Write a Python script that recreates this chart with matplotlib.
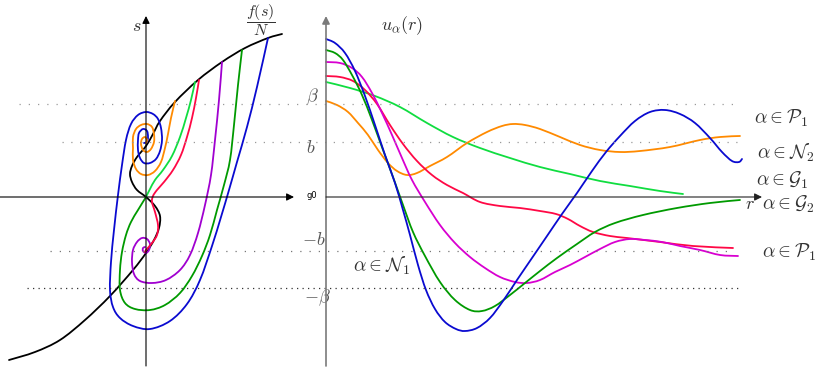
import numpy as np
import matplotlib.pyplot as plt
from matplotlib.path import Path
from matplotlib.patches import PathPatch

plt.rcParams['mathtext.fontset'] = 'cm'

# canvas size (pixels at dpi 100)
plot_dpi = 100
width_px = 830
height_px = 369

# left panel: phase plane (g, s)
nullcline = [(9, 360), (35, 352), (60, 340), (85, 320), (110, 296), (133, 270), (146, 253),
             (154, 240), (159, 228), (160, 216), (155, 206), (146, 197), (137, 190),
             (132, 182), (130, 174), (132, 166), (137, 157), (146, 146), (153, 134),
             (160, 121), (175, 102), (198, 80), (222, 62), (245, 48), (268, 38), (282, 34)]
phase_blue = [(268, 38), (257, 87), (247, 127), (237, 162), (229, 190), (221, 217), (212, 246),
              (200, 280), (187, 304), (170, 321), (150, 329), (133, 326), (120, 318),
              (113, 307), (110, 290), (111, 262), (114, 230), (118, 195), (122, 165),
              (126, 140), (131, 124), (138, 115), (146, 112), (153, 114), (158, 119),
              (161, 128), (162, 140), (160, 151), (156, 159), (150, 163), (144, 163),
              (140, 158), (138, 150), (138, 140), (139, 133), (143, 129), (147, 131),
              (148, 137), (147, 142), (144, 143)]
phase_orange = [(175, 101), (171, 118), (168, 134), (165, 148), (161, 162), (155, 171),
                (148, 175), (141, 174), (136, 169), (133, 160), (133, 148), (133, 137),
                (136, 129), (141, 125), (147, 124), (152, 127), (154, 134), (154, 142),
                (151, 149), (147, 152), (143, 150), (141, 144), (142, 139), (145, 137),
                (147, 140), (146, 143)]
phase_lightgreen = [(195, 82), (191, 100), (186, 118), (180, 137), (172, 156), (163, 170),
                    (155, 180), (150, 189), (146, 197)]
phase_red = [(199, 80), (196, 98), (192, 118), (187, 137), (181, 155), (173, 170),
             (164, 182), (157, 190), (153, 196), (152, 202), (155, 212), (158, 225),
             (157, 235), (152, 243), (146, 250), (145, 252)]
phase_green = [(242, 50), (238, 85), (234, 125), (230, 160), (224, 185), (217, 210),
               (210, 235), (202, 256), (192, 276), (180, 293), (165, 305), (150, 310),
               (135, 309), (125, 303), (120, 290), (120, 270), (122, 252), (126, 235),
               (131, 222), (138, 210), (146, 197)]
phase_purple = [(222, 62), (219, 100), (215, 140), (211, 175), (205, 205), (198, 233),
                (190, 255), (180, 270), (166, 280), (152, 283), (140, 281), (134, 274),
                (132, 262), (133, 250), (137, 242), (142, 238), (147, 239), (150, 244),
                (149, 250), (146, 253), (143, 251), (143, 248), (145, 247)]

# right panel: profiles u_alpha(r)
u_blue = [(326, 39), (335, 43), (345, 53), (355, 71), (365, 96), (375, 125), (385, 155),
          (395, 183), (403, 210), (410, 235), (418, 265), (426, 290), (435, 309), (445, 322),
          (456, 329), (465, 331), (477, 328), (490, 318), (503, 301), (517, 280), (532, 258),
          (547, 236), (562, 214), (577, 193), (592, 171), (606, 152), (620, 136), (635, 121),
          (650, 112), (665, 110), (680, 114), (695, 123), (710, 138), (722, 152), (732, 161),
          (739, 162), (742, 159)]
u_green = [(326, 50), (335, 53), (343, 60), (352, 75), (362, 95), (372, 120), (383, 150),
           (393, 177), (403, 205), (413, 232), (425, 256), (440, 282), (455, 300), (470, 310),
           (482, 311), (495, 306), (510, 295), (525, 283), (540, 271), (557, 258), (577, 244),
           (595, 232), (615, 223), (643, 215), (677, 208), (710, 203), (740, 200)]
u_magenta = [(326, 62), (340, 63), (352, 68), (362, 77), (372, 93), (382, 113), (392, 135),
             (402, 158), (412, 180), (425, 202), (440, 225), (455, 243), (470, 257), (485, 268),
             (500, 277), (515, 282), (527, 283), (540, 280), (555, 272), (570, 265), (585, 257),
             (600, 249), (615, 242), (630, 239), (645, 240), (662, 242), (680, 246), (700, 250),
             (720, 255), (738, 256)]
u_red = [(326, 76), (340, 77), (353, 81), (365, 90), (377, 104), (390, 125), (403, 144),
         (417, 161), (432, 175), (447, 185), (463, 193), (480, 202), (500, 206), (520, 208),
         (540, 211), (556, 214), (568, 219), (580, 226), (593, 232), (610, 236), (627, 238),
         (660, 242), (693, 246), (733, 248)]
u_lightgreen = [(326, 82), (350, 88), (375, 96), (400, 107), (427, 123), (453, 137),
                (480, 148), (510, 158), (540, 167), (570, 174), (600, 181), (630, 186),
                (660, 191), (683, 194)]
u_orange = [(326, 101), (337, 105), (348, 112), (358, 123), (368, 135), (378, 150),
            (388, 163), (397, 171), (407, 175), (417, 173), (430, 166), (447, 157),
            (467, 143), (487, 132), (502, 126), (513, 124), (525, 125), (540, 129),
            (560, 137), (580, 145), (600, 150), (620, 152), (640, 151), (670, 147),
            (700, 140), (720, 137), (740, 136)]

# threshold levels (y) and their dotted extent
level_names = [r'$\beta$', r'$b$', r'$-b$', r'$-\beta$']
level_y = [104, 142, 251, 288]
level_x0 = [19, 62, 50, 27]
level_x1 = [738, 738, 733, 740]
level_label_pos = [(312, 97), (311, 148), (314, 240), (317, 298)]

# class labels on the right
class_labels = [r'$\alpha\in\mathcal{P}_1$', r'$\alpha\in\mathcal{N}_2$',
                r'$\alpha\in\mathcal{G}_1$', r'$\alpha\in\mathcal{G}_2$',
                r'$\alpha\in\mathcal{P}_1$', r'$\alpha\in\mathcal{N}_1$']
class_label_pos = [(781, 118), (786, 153), (782, 180), (788, 204), (789, 252), (381, 266)]

BLUE = '#0a0ad0'
GREEN = '#009a00'
LGREEN = '#10dd40'
ORANGE = '#ff8a00'
RED = '#ff0845'
PURPLE = '#a000d0'
MAGENTA = '#d800d0'


def smooth_path(points):
    # Catmull-Rom through the read points, drawn as cubic Bezier segments
    pts = np.asarray(points, dtype=float)
    n = len(pts)
    verts = [pts[0]]
    codes = [Path.MOVETO]
    for i in range(n - 1):
        p0 = pts[max(i - 1, 0)]
        p1 = pts[i]
        p2 = pts[i + 1]
        p3 = pts[min(i + 2, n - 1)]
        verts += [p1 + (p2 - p0) / 6.0, p2 - (p3 - p1) / 6.0, p2]
        codes += [Path.CURVE4] * 3
    return Path(verts, codes)


def draw_curve(ax, points, color, lw=1.3):
    ax.add_patch(PathPatch(smooth_path(points), fill=False, edgecolor=color, lw=lw,
                           capstyle='round', joinstyle='round'))


def draw_arrow(ax, start, end, color, lw):
    ax.annotate('', xy=end, xytext=start,
                arrowprops=dict(arrowstyle='-|>', color=color, lw=lw,
                                mutation_scale=11, shrinkA=0, shrinkB=0))


fig = plt.figure(figsize=(width_px / plot_dpi, height_px / plot_dpi), dpi=plot_dpi)
ax = fig.add_axes([0, 0, 1, 1])
ax.set_xlim(0, width_px)
ax.set_ylim(height_px, 0)
ax.axis('off')

# dotted levels
styles = [('#9a9a9a', (0, (1, 6.4))), ('#9a9a9a', (0, (1, 6.0))),
          ('#777777', (0, (1, 6.4))), ('#333333', (0, (1, 3.4)))]
for y, x0, x1, (c, ls) in zip(level_y, level_x0, level_x1, styles):
    ax.plot([x0, x1], [y, y], color=c, lw=0.9, linestyle=ls)
for name, (x, y) in zip(level_names, level_label_pos):
    ax.text(x, y, name, fontsize=13, color='#555555', ha='center', va='center')

# axes of both panels
draw_arrow(ax, (146, 366), (146, 16), 'black', 0.8)
draw_arrow(ax, (0, 197), (294, 197), 'black', 0.8)
draw_arrow(ax, (326, 366), (326, 16), '#7a7a7a', 1.2)
draw_arrow(ax, (326, 197), (762, 197), '#222222', 0.8)

# left panel curves
draw_curve(ax, nullcline, 'black')
draw_curve(ax, phase_green, GREEN)
draw_curve(ax, phase_purple, PURPLE)
draw_curve(ax, phase_blue, BLUE)
draw_curve(ax, phase_lightgreen, LGREEN)
draw_curve(ax, phase_red, RED)
draw_curve(ax, phase_orange, ORANGE)

# right panel curves
draw_curve(ax, u_lightgreen, LGREEN)
draw_curve(ax, u_orange, ORANGE)
draw_curve(ax, u_red, RED)
draw_curve(ax, u_magenta, MAGENTA)
draw_curve(ax, u_green, GREEN)
draw_curve(ax, u_blue, BLUE)

# text
ax.text(137, 26, r'$s$', fontsize=13, color='#333333', ha='center', va='center')
ax.text(261, 20, r'$\dfrac{f(s)}{N}$', fontsize=11.5, color='#333333', ha='center', va='center')
ax.text(312, 195, 'g0', fontsize=6, color='black', ha='center', va='center')
ax.text(402, 26, r'$u_\alpha(r)$', fontsize=13, color='#333333', ha='center', va='center')
ax.text(750, 204, r'$r$', fontsize=13, color='#333333', ha='center', va='center')
for lab, (x, y) in zip(class_labels, class_label_pos):
    ax.text(x, y, lab, fontsize=14, color='#333333', ha='center', va='center')

fig.savefig('out.png', dpi=plot_dpi)
